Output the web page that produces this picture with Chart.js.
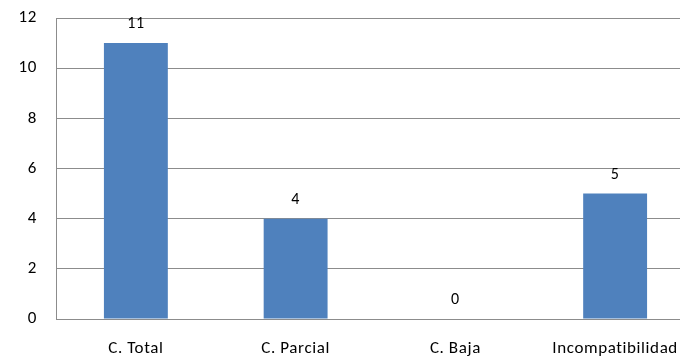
<!DOCTYPE html>
<html>
<head>
<meta charset="utf-8">
<script src="https://cdn.jsdelivr.net/npm/chart.js@4/dist/chart.umd.min.js"></script>
<style>
  html, body { margin: 0; padding: 0; background: #fff; overflow: hidden; }
  #wrap { width: 720px; height: 361px; }
</style>
</head>
<body>
<div id="wrap"><canvas id="c" width="720" height="361"></canvas></div>
<script>
const categories = ['C. Total', 'C. Parcial', 'C. Baja', 'Incompatibilidad'];
const counts = [11, 4, 0, 5];
const yTicks = [0, 2, 4, 6, 8, 10, 12];

const FONT = 'Carlito, Lato, "Open Sans", sans-serif';

// Slightly looser letter spacing for all canvas text
const textSpacing = {
  id: 'textSpacing',
  beforeDraw(chart) {
    if ('letterSpacing' in chart.ctx) chart.ctx.letterSpacing = '0.6px';
  }
};

// Writes each bar's value just above its top
const valueLabels = {
  id: 'valueLabels',
  afterDatasetsDraw(chart) {
    const ctx = chart.ctx;
    const meta = chart.getDatasetMeta(0);
    ctx.save();
    ctx.font = '16px ' + FONT;
    ctx.fillStyle = '#000';
    ctx.textAlign = 'center';
    ctx.textBaseline = 'middle';
    meta.data.forEach((bar, i) => {
      ctx.fillText(String(counts[i]), bar.x, bar.y - 19);
    });
    ctx.restore();
  }
};

new Chart(document.getElementById('c'), {
  type: 'bar',
  data: {
    labels: categories,
    datasets: [{
      data: counts,
      backgroundColor: '#4F81BD',
      borderWidth: 0,
      categoryPercentage: 1.0,
      barPercentage: 0.4
    }]
  },
  options: {
    responsive: false,
    animation: false,
    devicePixelRatio: 1,
    layout: { autoPadding: false, padding: { top: 18, right: 25, left: 0, bottom: 0 } },
    plugins: { legend: { display: false }, tooltip: { enabled: false } },
    scales: {
      x: {
        grid: { display: false, drawTicks: false },
        border: { display: false },
        ticks: { color: '#000', font: { family: FONT, size: 17 }, padding: 20, maxRotation: 0, autoSkip: false },
        afterFit(scale) { scale.height = 42; }
      },
      y: {
        min: 0,
        max: 12,
        afterBuildTicks(scale) { scale.ticks = yTicks.map(v => ({ value: v })); },
        grid: { color: '#8c8c8c', lineWidth: 1, drawTicks: false },
        border: { display: true, color: '#8c8c8c', width: 1 },
        ticks: { color: '#000', font: { family: FONT, size: 17 }, padding: 19 },
        afterFit(scale) { scale.width = 56; scale.paddingTop = 0; scale.paddingBottom = 0; }
      }
    }
  },
  plugins: [textSpacing, valueLabels]
});
</script>
</body>
</html>
